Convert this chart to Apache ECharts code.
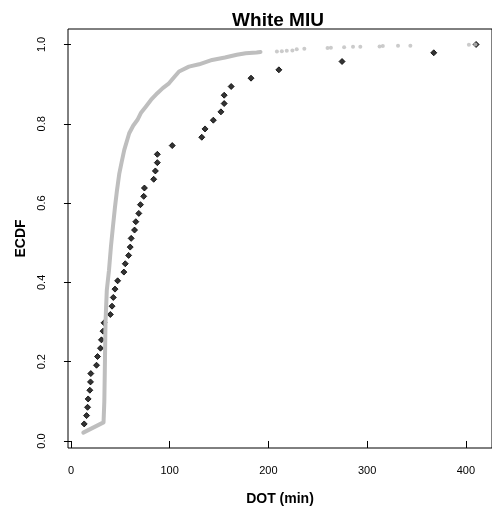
<!DOCTYPE html>
<html>
<head>
<meta charset="utf-8">
<script src="https://cdn.jsdelivr.net/npm/echarts@6/dist/echarts.min.js"></script>
<style>
  html, body { margin: 0; padding: 0; background: #fff; }
  #chart { width: 492px; height: 513px; }
</style>
</head>
<body>
<div id="chart"></div>
<script>
// Empirical CDF of delivery time (minutes) for the White MIU:
// the small sample (black diamonds) and the large reference sample (grey).

// Small sample: sorted DOT values and their ECDF heights
const smallDot = [13.4, 15.8, 16.8, 17.4, 19.1, 19.8, 20.1, 25.9, 26.9, 29.9,
  30.9, 32.5, 33.5, 39.9, 41.6, 42.9, 44.6, 47.3, 53.6, 55.0,
  58.4, 60.0, 61.0, 64.4, 65.7, 68.7, 70.4, 73.7, 74.4, 83.8,
  85.5, 87.5, 87.5, 102.6, 132.5, 135.8, 144.2, 151.9, 155.2, 155.2,
  162.3, 182.4, 210.6, 274.6, 367.5, 410.4];
const smallEcdf = [0.043, 0.064, 0.085, 0.106, 0.128, 0.149, 0.170, 0.191, 0.213, 0.234,
  0.255, 0.277, 0.298, 0.319, 0.340, 0.362, 0.383, 0.404, 0.426, 0.447,
  0.468, 0.489, 0.511, 0.532, 0.553, 0.574, 0.596, 0.617, 0.638, 0.660,
  0.681, 0.702, 0.723, 0.745, 0.766, 0.787, 0.809, 0.830, 0.851, 0.872,
  0.894, 0.915, 0.936, 0.957, 0.979, 1.000];

// Large sample, dense part (points so close they merge into a band)
const largeDot = [12.5, 33.0, 33.8, 34.3, 35.0, 36.3, 38.5, 40.5, 42.5, 44.6,
  46.5, 49.0, 51.5, 54.0, 59.0, 63.0, 67.4, 71.0, 75.8, 81.0,
  87.5, 93.0, 99.3, 104.0, 109.5, 119.5, 129.8, 143.0, 156.0, 168.0,
  177.0, 188.0, 192.0];
const largeEcdf = [0.021, 0.047, 0.100, 0.180, 0.300, 0.380, 0.430, 0.490, 0.540, 0.590,
  0.630, 0.675, 0.705, 0.734, 0.776, 0.795, 0.810, 0.828, 0.843, 0.860,
  0.877, 0.890, 0.902, 0.916, 0.932, 0.944, 0.950, 0.961, 0.967, 0.974,
  0.978, 0.980, 0.981];

// Large sample, sparse upper tail
const tailDot = [208.6, 213.6, 218.6, 224.3, 228.7, 236.4, 259.9, 263.3, 276.7, 285.7,
  293.1, 312.6, 315.9, 331.3, 343.8, 403.1, 409.8];
const tailEcdf = [0.982, 0.983, 0.984, 0.985, 0.988, 0.989, 0.991, 0.992, 0.993, 0.994,
  0.994, 0.995, 0.996, 0.997, 0.997, 0.999, 1.000];

// Axis ticks
const xTicks = [0, 100, 200, 300, 400];
const yTicks = [0, 0.2, 0.4, 0.6, 0.8, 1.0];

const pair = (xs, ys) => xs.map((x, i) => [x, ys[i]]);
const FONT = '"Liberation Sans", Arial, Helvetica, sans-serif';
const GREY = '#bebebe';

const chart = echarts.init(document.getElementById('chart'), null, { renderer: 'canvas' });

chart.setOption({
  animation: false,
  backgroundColor: '#ffffff',
  textStyle: { fontFamily: FONT },
  title: {
    text: 'White MIU',
    left: 273,
    textAlign: 'center',
    top: 6,
    textStyle: { fontFamily: FONT, fontSize: 19, fontWeight: 'bold', color: '#000' }
  },
  grid: {
    left: 68, top: 29, width: 427, height: 419,
    show: true, borderColor: '#000', borderWidth: 1,
    containLabel: false
  },
  xAxis: {
    type: 'value',
    min: -3.0, max: 426.5,
    name: 'DOT (min)',
    nameLocation: 'middle',
    nameGap: 44,
    nameTextStyle: { fontFamily: FONT, fontSize: 14, fontWeight: 'bold', color: '#000' },
    axisLine: { show: false },
    axisTick: { show: true, customValues: xTicks, length: 7, lineStyle: { color: '#000', width: 1 } },
    axisLabel: {
      customValues: xTicks, margin: 17, fontSize: 11, color: '#000', fontFamily: FONT,
      formatter: v => String(v)
    },
    splitLine: { show: false }
  },
  yAxis: {
    type: 'value',
    min: -0.0177, max: 1.039,
    name: 'ECDF',
    nameLocation: 'middle',
    nameGap: 34,
    nameTextStyle: { fontFamily: FONT, fontSize: 14, fontWeight: 'bold', color: '#000' },
    axisLine: { show: false },
    axisTick: { show: true, customValues: yTicks, length: 7, lineStyle: { color: '#000', width: 1 } },
    axisLabel: {
      customValues: yTicks, rotate: 90, margin: 21, fontSize: 11, color: '#000', fontFamily: FONT,
      formatter: v => v.toFixed(1)
    },
    splitLine: { show: false }
  },
  series: [
    {
      name: 'small',
      type: 'scatter',
      data: pair(smallDot, smallEcdf),
      symbol: 'diamond',
      symbolSize: 6,
      itemStyle: { color: '#000', borderColor: '#000', borderWidth: 1 },
      z: 2
    },
    {
      name: 'large',
      type: 'line',
      data: pair(largeDot, largeEcdf),
      showSymbol: false,
      symbol: 'none',
      lineStyle: { color: GREY, width: 4, cap: 'round', join: 'round' },
      z: 3
    },
    {
      name: 'large tail',
      type: 'scatter',
      data: pair(tailDot, tailEcdf),
      symbol: 'circle',
      symbolSize: 4,
      itemStyle: { color: GREY },
      z: 3
    }
  ]
});
</script>
</body>
</html>
